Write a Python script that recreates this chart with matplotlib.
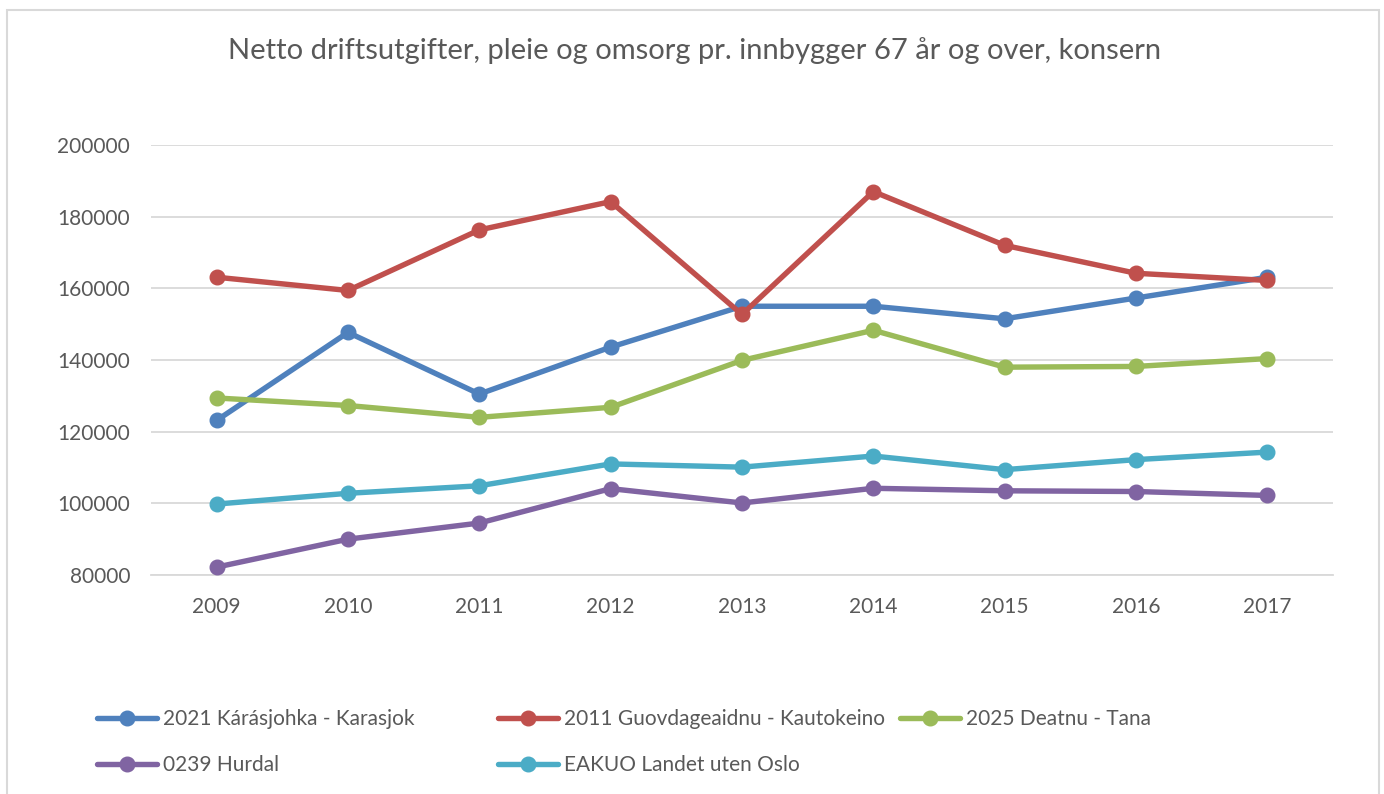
import matplotlib
matplotlib.use("Agg")
import matplotlib.pyplot as plt
from matplotlib.patches import Rectangle

years = ["2009", "2010", "2011", "2012", "2013", "2014", "2015", "2016", "2017"]
karasjok = [123150, 147700, 130500, 143600, 155000, 155000, 151500, 157300, 163100]
kautokeino = [163100, 159400, 176300, 184200, 152700, 187000, 172000, 164200, 162200]
tana = [129400, 127300, 124000, 126800, 139900, 148300, 138000, 138200, 140400]
hurdal = [82200, 90000, 94500, 104100, 100100, 104200, 103500, 103300, 102200]
landet = [99800, 102800, 104900, 111000, 110100, 113200, 109400, 112200, 114300]

series_names = ["2021 Kárásjohka - Karasjok", "2011 Guovdageaidnu - Kautokeino",
                "2025 Deatnu - Tana", "0239 Hurdal", "EAKUO Landet uten Oslo"]
series_values = [karasjok, kautokeino, tana, hurdal, landet]
colors = ["#4F81BD", "#C0504D", "#9BBB59", "#8064A2", "#4BACC6"]
yticks = [80000, 100000, 120000, 140000, 160000, 180000, 200000]
title = "Netto driftsutgifter, pleie og omsorg pr. innbygger 67 år og over, konsern"

plt.rcParams['font.family'] = ['Lato', 'DejaVu Sans']
W, H = 1384, 794
fig = plt.figure(figsize=(W / 100, H / 100), dpi=100)
fig.patch.set_facecolor("white")

ax = fig.add_axes([151 / W, 1 - 575 / H, (1333 - 151) / W, (575 - 145) / H])
x = list(range(len(years)))
lines = []
for name, vals, c in zip(series_names, series_values, colors):
    ln, = ax.plot(x, vals, color=c, lw=3.9, marker="o", markersize=10.5,
                  solid_capstyle="round", label=name, zorder=3, clip_on=False)
    lines.append(ln)

ax.set_xlim(-0.5, len(years) - 0.5)
ax.set_ylim(yticks[0], yticks[-1])
ax.set_yticks(yticks)
ax.set_yticklabels([str(v) for v in yticks])
ax.set_xticks(x)
ax.set_xticklabels(years)
ax.grid(axis="y", color="#D9D9D9", lw=1.3, zorder=0)
ax.set_axisbelow(True)
for s in ["top", "right", "left"]:
    ax.spines[s].set_visible(False)
ax.spines["bottom"].set_color("#D9D9D9")
ax.spines["bottom"].set_linewidth(1.3)
ax.tick_params(axis="both", length=0, labelsize=15, labelcolor="#595959")
ax.tick_params(axis="y", pad=15)
ax.tick_params(axis="x", pad=16)

fig.text(695 / W, 1 - 51 / H, title, ha="center", va="center",
         fontsize=21, color="#595959")

# border
fig.patches.append(Rectangle((7 / W, -0.02), (1379 - 7) / W, (794 - 10) / H + 0.02,
                             transform=fig.transFigure, fill=False,
                             edgecolor="#D9D9D9", lw=1.5))

# legend in three equal-width columns
col_x = [97, 498, 900]
groups = [[0, 3], [1, 4], [2]]
for cx, idx in zip(col_x, groups):
    fig.legend([lines[i] for i in idx], [series_names[i] for i in idx],
               loc="upper left", bbox_to_anchor=(cx / W, 1 - 709 / H),
               frameon=False, fontsize=15, handlelength=2.9, handletextpad=0.25,
               labelspacing=1.27, borderpad=0, borderaxespad=0,
               labelcolor="#595959")

fig.savefig("out.png", dpi=100, facecolor="white")
